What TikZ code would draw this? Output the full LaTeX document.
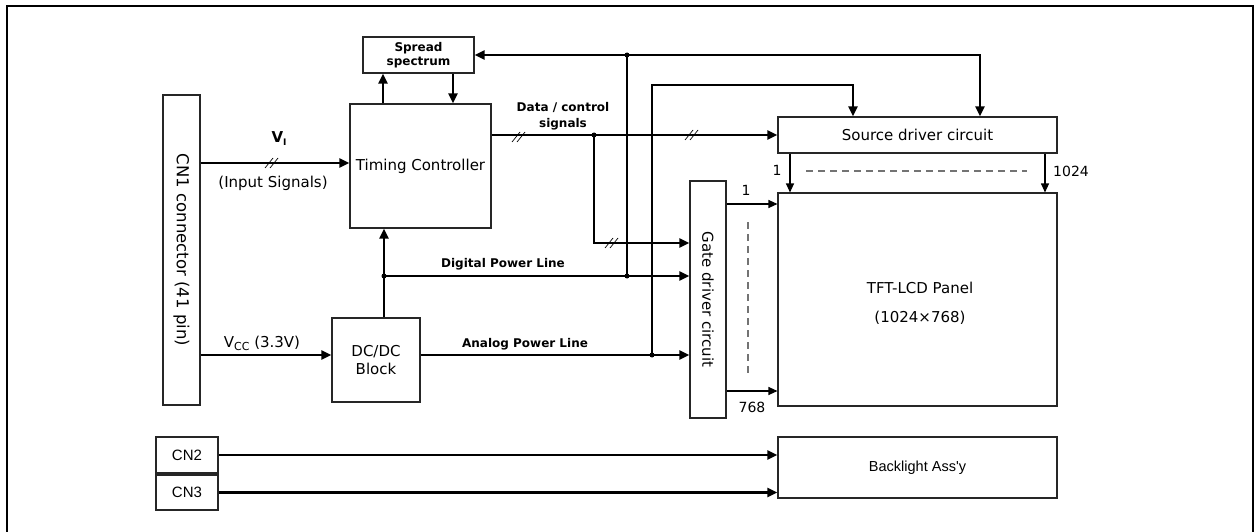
\documentclass[tikz,border=0pt]{standalone}
\usepackage{fontspec}
\setmainfont{DejaVu Sans}
\newfontfamily\libfont{Liberation Sans}
\usetikzlibrary{arrows.meta,calc}
\begin{document}
\begin{tikzpicture}[x=1pt,y=-1pt,
  box/.style={draw=black!85, line width=1.1pt, inner sep=0pt, align=center, font=\fontsize{15}{18}\selectfont},
  wire/.style={line width=2.4pt},
  conn/.style={line width=2.4pt, -{Triangle[length=10pt,width=9pt]}},
  thinconn/.style={line width=1.1pt, -{Triangle[length=9pt,width=8pt]}},
  lbl/.style={font=\bfseries\fontsize{12}{16}\selectfont, inner sep=0pt, align=center},
  txt/.style={font=\fontsize{15}{18}\selectfont, inner sep=0pt, align=center},
  numtxt/.style={font=\fontsize{14}{16}\selectfont, inner sep=0pt},
  gdash/.style={draw=black!55, line width=1.2pt, dash pattern=on 7pt off 5pt},
  jdot/.style={circle, fill, inner sep=0pt, minimum size=5pt},
  slashes/.pic={\draw[line width=0.7pt] (-7,5) -- (1,-5) (-2,5) -- (6,-5);},
]
\useasboundingbox (0,0) rectangle (1260,532);
\fill[white] (0,0) rectangle (1260,532);
\draw[line width=2pt] (7,532) -- (7,6) -- (1253,6) -- (1253,532);

% boxes
\node[box, minimum width=37pt, minimum height=310pt] (cn1) at (181.5,250) {};
\node[txt, rotate=-90, font=\fontsize{16.5}{18}\selectfont] (cn1t) at (cn1.center) {CN1 connector (41 pin)};
\node[box, minimum width=111pt, minimum height=36pt, font=\bfseries\fontsize{12}{14}\selectfont] (ss) at (418.5,55) {Spread\\spectrum};
\node[box, minimum width=141pt, minimum height=124pt] (tc) at (420.5,166) {Timing Controller};
\node[box, minimum width=88pt, minimum height=84pt] (dc) at (376,360) {DC/DC\\Block};
\node[box, minimum width=279pt, minimum height=36pt] (src) at (917.5,135) {Source driver circuit};
\node[box, minimum width=279pt, minimum height=213pt] (panel) at (917.5,299.5) {};
\node[txt] (pt1) at (920,288) {TFT-LCD Panel};
\node[txt] (pt2) at (920,318) {(1024×768)};
\node[box, minimum width=36pt, minimum height=237pt] (gate) at (708,299.5) {};
\node[txt, rotate=-90] (gatet) at (gate.center) {Gate driver circuit};
\node[box, minimum width=279pt, minimum height=61pt, font=\libfont\fontsize{14.5}{17}\selectfont] (bl) at (917.5,467.5) {Backlight Ass'y};
\node[box, minimum width=62pt, minimum height=36pt, font=\libfont\fontsize{15}{17}\selectfont] (cn2) at (187,455) {CN2};
\node[box, minimum width=62pt, minimum height=35pt, font=\libfont\fontsize{15}{17}\selectfont] (cn3) at (187,492.5) {CN3};

% helper coordinates
\coordinate (yin) at (0,163);
\coordinate (ydata) at (0,135);
\coordinate (ygc) at (0,243);
\coordinate (ydig) at (0,276);
\coordinate (yana) at (0,355);
\coordinate (xup) at (384,0);
\coordinate (xss1) at (383,0);
\coordinate (xss2) at (453,0);
\coordinate (xbr) at (594,0);
\coordinate (xj) at (627,0);
\coordinate (xa) at (652,0);
\coordinate (xs1) at (853,0);
\coordinate (xs2) at (980,0);
\coordinate (ytop) at (0,55);
\coordinate (ytop2) at (0,85);
\coordinate (xo1) at (790,0);
\coordinate (xo2) at (1045,0);
\coordinate (yg1) at (0,204);
\coordinate (yg2) at (0,391);

% input signals
\draw[conn] (cn1.east |- yin) -- (tc.west |- yin);
\pic at (272,163) {slashes};
\node[font=\bfseries\fontsize{15}{18}\selectfont, inner sep=0pt] (vi) at (279,139) {V\raisebox{-3pt}{\fontsize{9}{9}\selectfont I}};
\node[txt] (ins) at (273,183) {(Input Signals)};

% Vcc
\draw[conn] (cn1.east |- yana) -- (dc.west |- yana);
\node[txt] (vcc) at (262,343) {V\raisebox{-3pt}{\fontsize{11}{11}\selectfont CC} (3.3V)};

% spread spectrum links
\draw[conn] (tc.north -| xss1) -- (ss.south -| xss1);
\draw[conn] (ss.south -| xss2) -- (tc.north -| xss2);

% top bus
\draw[wire, {Triangle[length=10pt,width=9pt]}-{Triangle[length=10pt,width=9pt]}] (ss.east) -- (xs2 |- ss.east) -- (src.north -| xs2);
\draw[wire] (xj |- ytop) -- (xj |- ydig);
\node[jdot] at (xj |- ytop) {};
\node[jdot] at (xj |- ydig) {};

% second bus
\draw[conn] (xa |- yana) -- (xa |- ytop2) -- (xs1 |- ytop2) -- (src.north -| xs1);
\node[jdot] at (xa |- yana) {};

% data / control
\draw[conn] (tc.east |- ydata) -- (src.west |- ydata);
\pic at (519,137) {slashes};
\pic at (692,135) {slashes};
\node[lbl] (dcl) at (563,116) {Data / control\\signals};
\draw[conn] (xbr |- ydata) -- (xbr |- ygc) -- (gate.west |- ygc);
\pic at (612,243) {slashes};
\node[jdot] at (xbr |- ydata) {};

% power lines
\draw[conn] (dc.north -| xup) -- (tc.south -| xup);
\draw[conn] (xup |- ydig) -- (gate.west |- ydig);
\node[jdot] at (xup |- ydig) {};
\node[lbl] (dpl) at (503,264) {Digital Power Line};
\draw[conn] (dc.east |- yana) -- (gate.west |- yana);
\node[lbl] (apl) at (525,344) {Analog Power Line};

% source outputs
\draw[thinconn] (src.south -| xo1) -- (panel.north -| xo1);
\draw[thinconn] (src.south -| xo2) -- (panel.north -| xo2);
\draw[gdash] (806,171) -- (1027,171);
\node[numtxt] (s1) at (777,170) {1};
\node[numtxt] (s1024) at (1071,171) {1024};

% gate outputs
\draw[thinconn] (gate.east |- yg1) -- (panel.west |- yg1);
\draw[thinconn] (gate.east |- yg2) -- (panel.west |- yg2);
\draw[gdash] (748,222) -- (748,373);
\node[numtxt] (g1) at (746,190) {1};
\node[numtxt] (g768) at (752,407) {768};

% backlight
\draw[conn] (cn2.east) -- (bl.west |- cn2.east);
\draw[conn] (cn3.east) -- (bl.west |- cn3.east);
\end{tikzpicture}
\end{document}
